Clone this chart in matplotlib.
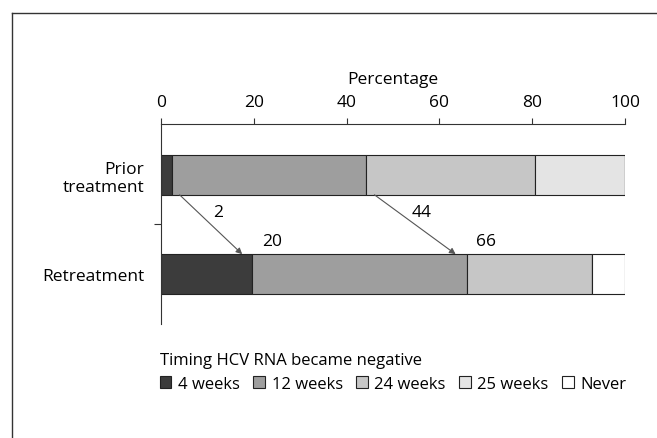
import matplotlib
matplotlib.use("Agg")
import matplotlib.pyplot as plt
from matplotlib.patches import Patch
from matplotlib.ticker import FixedLocator
import numpy as np

plt.rcParams['font.family'] = ['Open Sans', 'DejaVu Sans']
plt.rcParams['font.size'] = 12.5

# data
groups = ['Prior\ntreatment', 'Retreatment']
timings = ['4 weeks', '12 weeks', '24 weeks', '25 weeks', 'Never']
prior = [2.4, 41.8, 36.3, 19.5, 0.0]
retreat = [19.7, 46.3, 26.9, 0.0, 7.1]
colors = ['#3c3c3c', '#9e9e9e', '#c6c6c6', '#e4e4e4', '#ffffff']
arrow_from = [2, 44]
arrow_to = [20, 66]

fig = plt.figure(figsize=(6.57, 4.39), dpi=100)
ax = fig.add_axes([161/657, 1-325/439, 464/657, 200/439])

ypos = np.arange(len(groups))
values = np.array([prior, retreat])
left = np.zeros(len(groups))
for i, name in enumerate(timings):
    ax.barh(ypos, values[:, i], left=left, height=0.4, color=colors[i],
            edgecolor='#222222', linewidth=0.8)
    left += values[:, i]

ax.set_xlim(0, 100)
ax.set_ylim(1.505, -0.515)
ax.xaxis.tick_top()
ax.xaxis.set_label_position('top')
ax.set_xticks([0, 20, 40, 60, 80, 100])
ax.set_xlabel('Percentage', labelpad=8)
ax.tick_params(axis='x', length=4, width=0.8, pad=6, color='#333333')
ax.set_yticks(ypos)
ax.set_yticklabels(groups, ha='right', multialignment='right')
ax.tick_params(axis='y', length=0, pad=12)
ax.yaxis.set_minor_locator(FixedLocator([0.5]))
ax.tick_params(axis='y', which='minor', length=5, width=0.8, color='#333333')
for s in ['right', 'bottom']:
    ax.spines[s].set_visible(False)
for s in ['top', 'left']:
    ax.spines[s].set_linewidth(0.8)
    ax.spines[s].set_color('#333333')

# arrows showing the shift between treatments
for a, b in zip(arrow_from, arrow_to):
    x0, x1 = a + 2, b - 2.5
    ax.annotate('', xy=(x1, 1 - 0.2), xytext=(x0, 0.2),
                arrowprops=dict(arrowstyle='-|>', color='#555555', lw=0.8,
                                mutation_scale=9, shrinkA=0, shrinkB=0))
    ax.text((x0 + x1) / 2 + 1.5, 0.37, str(a), ha='center', va='center')
    ax.text(b + 4, 0.67, str(b), ha='center', va='center')

handles = [Patch(facecolor=c, edgecolor='#222222', linewidth=0.8) for c in colors]
leg = fig.legend(handles, timings, title='Timing HCV RNA became negative',
                 loc='upper left', bbox_to_anchor=(153/657, 1-346/439),
                 ncol=5, frameon=False, handlelength=0.7, handleheight=0.7,
                 handletextpad=0.4, columnspacing=0.8, fontsize=12,
                 title_fontsize=12, borderaxespad=0)
leg._legend_box.align = 'left'

# border of the scanned figure
fig.add_artist(plt.Line2D([12/657, 1], [1-14/439, 1-14/439], color='#333333', lw=1.0))
fig.add_artist(plt.Line2D([12/657, 12/657], [0, 1-14/439], color='#333333', lw=1.0))

fig.savefig('out.png', dpi=100)
